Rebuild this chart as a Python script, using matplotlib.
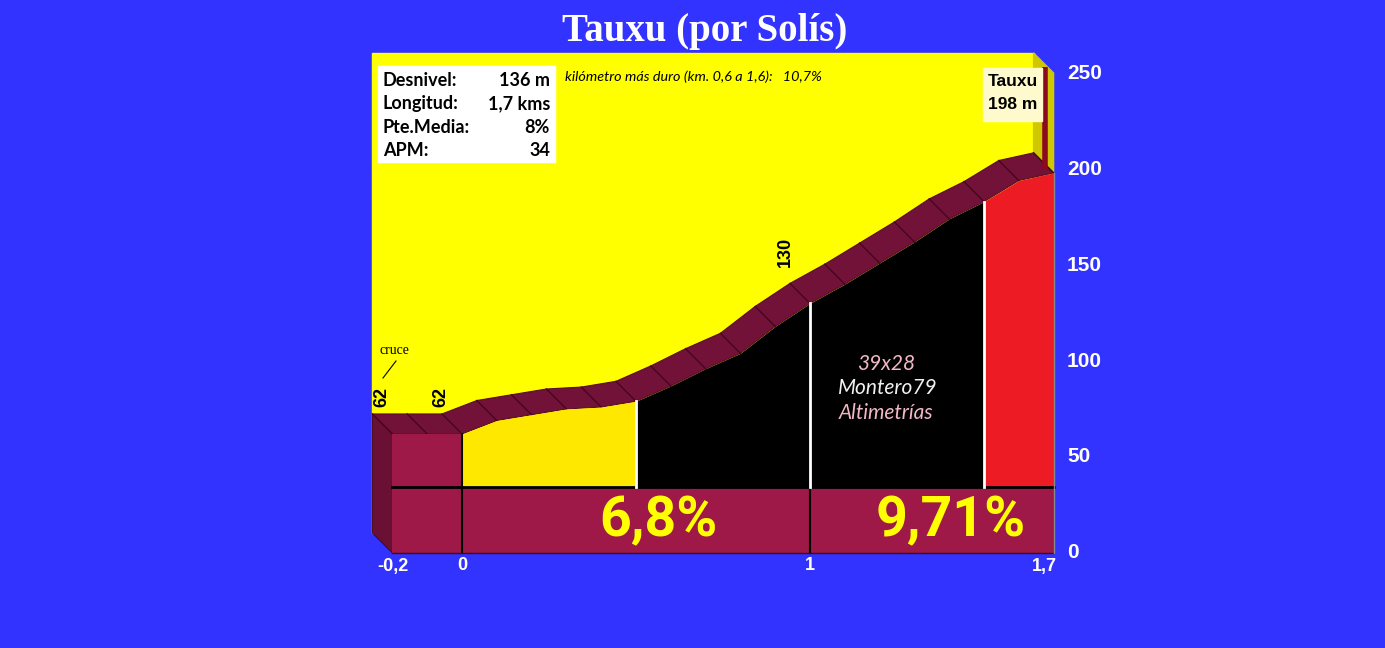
import matplotlib
matplotlib.use("Agg")
import matplotlib.pyplot as plt
import numpy as np

# perfil (km, altitud)
km = [-0.2, -0.1, 0.0, 0.1, 0.2, 0.3, 0.4, 0.5, 0.6, 0.7, 0.8, 0.9,
      1.0, 1.1, 1.2, 1.3, 1.4, 1.5, 1.6, 1.7]
alt = [62, 62, 62, 69, 72, 75, 76, 79, 87, 96, 104, 118,
       130, 140, 151, 162, 174, 183, 194, 198]

# tramos coloreados (inicio, fin, color)
tramos = [(0.0, 0.5, "#ffe800"), (0.5, 1.5, "#000000"), (1.5, 1.7, "#ed1c24")]
banda = 34.4
pendientes = ["6,8%", "9,71%"]
pend_x = [0.565, 1.405]
alt_labels = ["62", "62", "130"]

x_ticks = [-0.2, 0, 1, 1.7]
x_ticklabels = ["-0,2", "0", "1", "1,7"]
y_ticks = [0, 50, 100, 150, 200, 250]

info = [("Desnivel:", "136 m"), ("Longitud:", "1,7 kms"),
        ("Pte.Media:", "8%"), ("APM:", "34")]

# escala: 348 px por km, 1.92 px por metro, origen en (462, 553)
SX, SY = 348.0, 1.92
def px(x, y):
    return (x - 462) / SX, (553 - y) / SY

DX, DY = -20 / SX, 20 / SY  # desplazamiento 3D

fig = plt.figure(figsize=(13.85, 6.48), dpi=100)
fig.patch.set_facecolor("#3333ff")
ax = fig.add_axes([0, 0, 1, 1])
ax.set_xlim(-462 / SX, (1385 - 462) / SX)
ax.set_ylim(-95 / SY, 553 / SY)
ax.axis("off")

x = np.array(km)
y = np.array(alt)

# pared de fondo
x0, x1 = km[0] + DX, km[-1] + DX
ax.fill([x0, x1, x1, x0], [DY, DY, 250 + DY, 250 + DY], color="#ffff00", zorder=1)
# pared lateral derecha
ax.fill([x1, km[-1], km[-1], x1], [250 + DY, 250, 0, DY], color="#cfc800", zorder=1)

# cresta superior
top_x = np.concatenate([x, (x + DX)[::-1]])
top_y = np.concatenate([y, (y + DY)[::-1]])
ax.fill(top_x, top_y, color="#731238", ec="#5a0c2a", lw=0.8, zorder=2)
for xi, yi in zip(km, alt):
    ax.plot([xi, xi + DX], [yi, yi + DY], color="#45061e", lw=1, zorder=3)

# lado izquierdo
ax.fill([km[0], km[0], km[0] + DX, km[0] + DX], [0, alt[0], alt[0] + DY, DY],
        color="#6b1035", ec="#4a0a22", lw=0.8, zorder=2)

# cara frontal
m = x <= 0
ax.fill_between(x[m], 0, y[m], color="#9e1848", lw=0, zorder=4)
for a, b, c in tramos:
    m = (x >= a - 1e-9) & (x <= b + 1e-9)
    ax.fill_between(x[m], banda, y[m], color=c, lw=0, zorder=4)
ax.fill_between([km[0], km[-1]], 0, banda, color="#9e1848", lw=0, zorder=4)

# lineas
ax.plot([km[0], km[-1]], [banda, banda], color="black", lw=2, zorder=5)
ax.plot([0, 0], [0, alt[2]], color="black", lw=1.5, zorder=5)
ax.plot([1, 1], [0, banda], color="black", lw=1.5, zorder=5)
for xv in [0.5, 1.0, 1.5]:
    ax.plot([xv, xv], [banda, alt[km.index(xv)]], color="white", lw=2, zorder=5)
ax.plot([km[0], km[-1]], [0, 0], color="#3a0615", lw=1, zorder=5)
ax.plot([km[-1], km[-1]], [0, alt[-1]], color="#888888", lw=1, zorder=5)

# marca de la cima
mx, _ = px(1045, 0)
ax.plot([mx, mx], [px(0, 170)[1], px(0, 67)[1]], color="#8b0a1e", lw=4,
        solid_capstyle="butt", zorder=3)

# pendientes
for t, xp in zip(pendientes, pend_x):
    ax.text(xp, 16.5, t, color="#ffff00", fontsize=40, fontweight="bold",
            family=["Roboto", "DejaVu Sans"], fontstretch="condensed",
            ha="center", va="center", zorder=6)

# altitudes
for (xp, yp), t in zip([(382, 397), (441, 397), (785, 252)], alt_labels):
    ax.text(*px(xp, yp), t, rotation=90, fontsize=13, fontweight="bold",
            family="Liberation Sans", ha="center", va="center", zorder=6)

# cruce
ax.text(*px(394, 351), "cruce", family="Liberation Serif", fontsize=10,
        ha="center", va="center", zorder=6)
ax.plot(*zip(px(396, 361), px(383, 378)), color="black", lw=0.8, zorder=6)

# ejes
for xt, lab in zip(x_ticks, x_ticklabels):
    ha = "right" if xt == 1.7 else "center"
    ax.text(xt + (3 / SX if xt == 1.7 else 0), px(0, 566)[1], lab,
            color="white", fontsize=13, fontweight="bold",
            family="Liberation Sans", ha=ha, va="center")
for yt in y_ticks:
    ax.text(px(1067, 0)[0], yt, str(yt), color="white", fontsize=15,
            fontweight="bold", family="Liberation Sans", ha="left", va="center")

# titulo
ax.text(*px(705, 31), "Tauxu (por Solís)", color="white", fontsize=28,
        fontweight="bold", family="Liberation Serif", ha="center", va="center")

# cuadro de datos
bx0, by0 = px(378, 162)
bx1, by1 = px(555, 66)
ax.fill([bx0, bx1, bx1, bx0], [by0, by0, by1, by1], color="white", zorder=6)
for i, (k, v) in enumerate(info):
    yy = px(0, 80 + 23.5 * i)[1]
    ax.text(px(383, 0)[0], yy, k, fontsize=13, fontweight="bold",
            family="Lato", ha="left", va="center", zorder=7)
    ax.text(px(550, 0)[0], yy, v, fontsize=13, fontweight="bold",
            family="Lato", ha="right", va="center", zorder=7)

ax.text(*px(565, 77), "kilómetro más duro (km. 0,6 a 1,6):   10,7%",
        fontsize=10.4, style="italic", family="Lato", ha="left", va="center",
        zorder=7)

# cima
cx0, cy0 = px(983, 121)
cx1, cy1 = px(1042, 68)
ax.fill([cx0, cx1, cx1, cx0], [cy0, cy0, cy1, cy1], color="#fffacd", zorder=6)
ax.text(*px(1013, 81), "Tauxu", fontsize=12.5, fontweight="bold",
        family="Liberation Sans", ha="center", va="center", zorder=7)
ax.text(*px(1013, 104), "198 m", fontsize=12.5, fontweight="bold",
        family="Liberation Sans", ha="center", va="center", zorder=7)

# firma
ax.text(*px(886, 364), "39x28", color="#f2b8c6", fontsize=15, style="italic",
        family="Lato", ha="center", va="center", zorder=7)
ax.text(*px(888, 388), "Montero79", color="#f0f0f0", fontsize=15,
        style="italic", family="Lato", ha="center", va="center", zorder=7)
ax.text(*px(886, 413), "Altimetrías", color="#f2b8c6", fontsize=15,
        style="italic", family="Lato", ha="center", va="center", zorder=7)

fig.savefig("out.png", dpi=100, facecolor=fig.get_facecolor())
